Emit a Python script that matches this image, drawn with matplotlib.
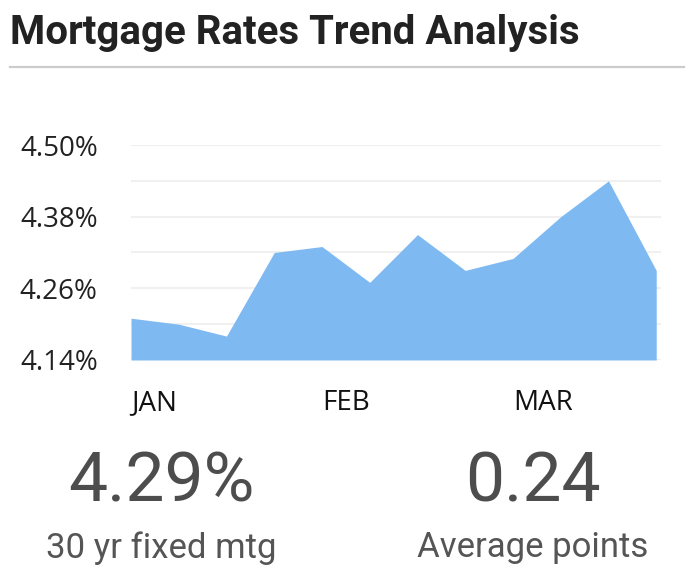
import matplotlib
matplotlib.use("Agg")
import matplotlib.pyplot as plt
from matplotlib.lines import Line2D

# weekly 30-yr fixed rates (%)
rates = [4.21, 4.20, 4.18, 4.32, 4.33, 4.27, 4.35, 4.29, 4.31, 4.38, 4.44, 4.29]
months = ["JAN", "FEB", "MAR"]
month_start = [0, 4, 8]
y_ticks = [4.14, 4.26, 4.38, 4.50]
grid_lines = [4.14, 4.20, 4.26, 4.32, 4.38, 4.44, 4.50]

title = "Mortgage Rates Trend Analysis"
stats = [("4.29%", "30 yr fixed mtg"), ("0.24", "Average points")]

W, H = 694, 577
fig = plt.figure(figsize=(W / 100, H / 100), dpi=100)

# header
fig.text(10 / W, 1 - 33 / H, title, fontsize=29, fontweight="bold",
         family="Roboto", color="#222222", va="center", ha="left")
fig.add_artist(Line2D([10 / W, 684 / W], [1 - 67 / H] * 2, color="#cccccc", lw=1.6))

# area chart
ax = fig.add_axes([131 / W, 1 - 360 / H, 530 / W, 215 / H])
x = list(range(len(rates)))
ax.fill_between(x, rates, 4.14, color="#7eb9f2", lw=0)
for g in grid_lines:
    ax.axhline(g, color="#f0f0f0", lw=1.5, zorder=0)
ax.set_xlim(0, len(rates) - 1 + 0.1)
ax.set_ylim(4.14, 4.50)
ax.set_yticks(y_ticks)
ax.set_yticklabels([f"{v:.2f}%" for v in y_ticks], family="Open Sans",
                   fontsize=20, color="#222222")
ax.tick_params(axis="y", length=0, pad=24)
ax.set_xticks([])
for s in ax.spines.values():
    s.set_visible(False)
for m, i in zip(months, month_start):
    ax.text(i, 4.14 - 0.072, m, ha="left", va="center", family="Open Sans",
            fontsize=20, color="#111111")

# summary stats
for (big, small), cx in zip(stats, [161, 533]):
    fig.text(cx / W, 1 - 483 / H, big, ha="center", va="center", family="Roboto",
             fontsize=50, color="#4d4d4d")
    fig.text(cx / W, 1 - 548 / H, small, ha="center", va="center", family="Roboto",
             fontsize=25, color="#555555")

fig.savefig("out.png", dpi=100)
